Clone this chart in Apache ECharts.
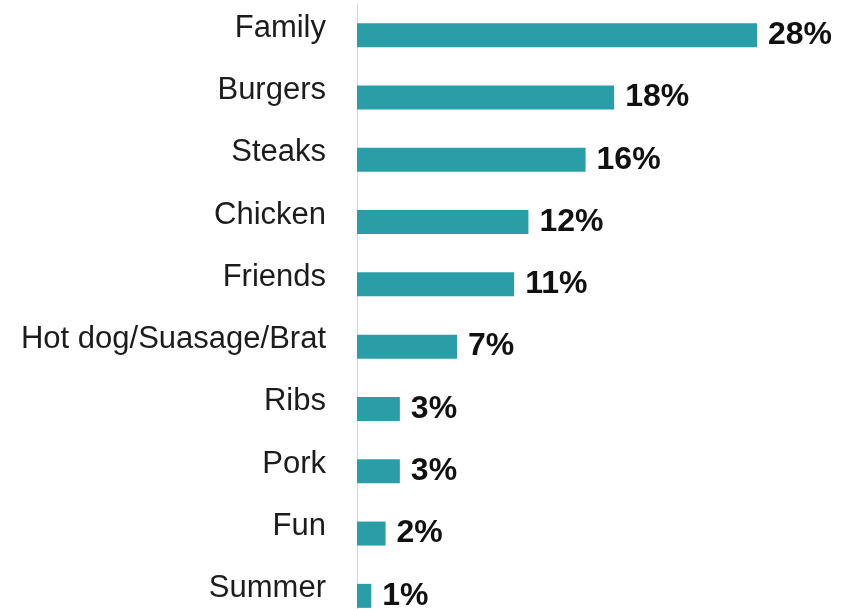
<!DOCTYPE html>
<html>
<head>
<meta charset="utf-8">
<script src="https://cdn.jsdelivr.net/npm/echarts@6/dist/echarts.min.js"></script>
<style>
  html, body { margin: 0; padding: 0; background: #ffffff; }
  #chart { width: 842px; height: 609px; }
</style>
</head>
<body>
<div id="chart"></div>
<script>
// Things people associate with a cookout, share of mentions (%)
const categories = ['Family', 'Burgers', 'Steaks', 'Chicken', 'Friends',
  'Hot dog/Suasage/Brat', 'Ribs', 'Pork', 'Fun', 'Summer'];
const shares = [28, 18, 16, 12, 11, 7, 3, 3, 2, 1];

const chart = echarts.init(document.getElementById('chart'), null, { renderer: 'canvas' });

chart.setOption({
  animation: false,
  backgroundColor: '#ffffff',
  grid: {
    left: 357, top: 4, width: 428.57, height: 623,
    containLabel: false,
    outerBoundsMode: 'none'
  },
  xAxis: {
    type: 'value',
    min: 0,
    max: 30,
    show: false
  },
  yAxis: {
    type: 'category',
    data: categories,
    inverse: true,
    axisLine: { show: true, lineStyle: { color: '#d9d9d9', width: 1 } },
    axisTick: { show: false },
    axisLabel: {
      margin: 31,
      fontFamily: 'Liberation Sans, Arial, sans-serif',
      fontSize: 31,
      color: '#1c1c1c',
      verticalAlign: 'middle',
      lineHeight: 14,
      // an empty second line lifts the name above the bar centre
      formatter: v => v + '\n '
    }
  },
  series: [{
    type: 'bar',
    data: shares,
    barWidth: 24,
    itemStyle: { color: '#2a9ea7' },
    label: {
      show: true,
      position: 'right',
      distance: 11,
      formatter: p => p.value + '%',
      fontFamily: 'Liberation Sans, Arial, sans-serif',
      fontWeight: 'bold',
      fontSize: 32,
      color: '#111111',
      padding: [0, 0, 3, 0]
    }
  }]
});
</script>
</body>
</html>
